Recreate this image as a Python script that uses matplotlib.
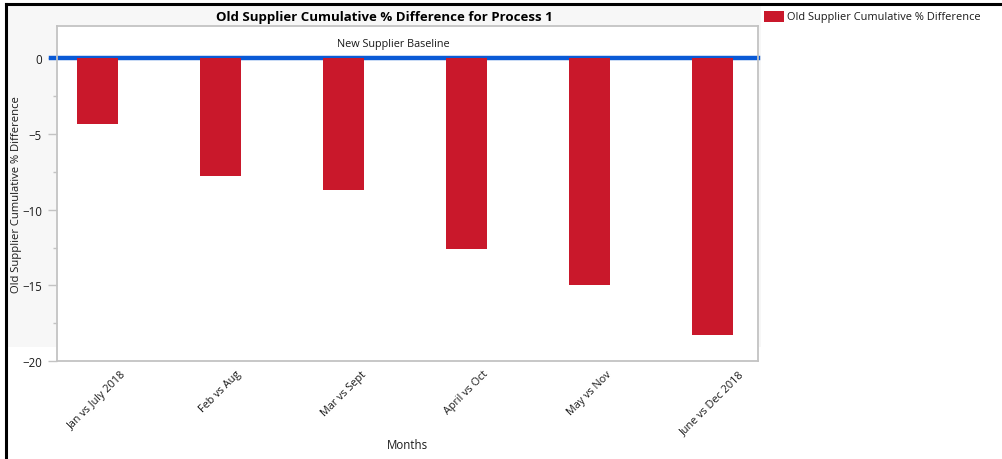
import matplotlib
matplotlib.use("Agg")
import matplotlib.pyplot as plt
from matplotlib.patches import Rectangle
from matplotlib.lines import Line2D
from matplotlib.ticker import MultipleLocator

plt.rcParams['font.family'] = ['Open Sans', 'DejaVu Sans']

months = ["Jan vs July 2018", "Feb vs Aug", "Mar vs Sept",
          "April vs Oct", "May vs Nov", "June vs Dec 2018"]
pct_diff = [-4.36, -7.77, -8.71, -12.6, -14.96, -18.25]
baseline = 0

BAR_RED = "#C9182B"
LINE_BLUE = "#0A5AD6"
SPINE_GRAY = "#C3C3C3"
TEXT = "#1A1A1A"

W, H = 1003, 460
fig = plt.figure(figsize=(W / 100, H / 100), dpi=100)
fig.patch.set_facecolor("white")

# light panel behind the chart (its own axes so it sits under the plot)
bg = fig.add_axes([7 / W, 1 - 347.5 / H, (761 - 7) / W, (347.5 - 6) / H], zorder=0)
bg.set_facecolor("#F7F7F7")
bg.set_axis_off()
bg.add_patch(Rectangle((0, 0), 1, 1, transform=bg.transAxes, facecolor="#F7F7F7",
                       edgecolor="none"))

# frame lines on top and left
fig.lines.append(Line2D([6 / W, 1], [1 - 5 / H, 1 - 5 / H], transform=fig.transFigure,
                        color="black", linewidth=2.2, zorder=5))
fig.lines.append(Line2D([6 / W, 6 / W], [0, 1 - 5 / H], transform=fig.transFigure,
                        color="black", linewidth=2.2, zorder=5))

left, right, top, bottom = 57, 758.3, 27.3, 362.3
ax = fig.add_axes([left / W, 1 - bottom / H, (right - left) / W, (bottom - top) / H],
                  zorder=2)
ax.set_facecolor("white")

x = list(range(len(months)))
bars = ax.bar(x, pct_diff, width=1 / 3, color=BAR_RED, zorder=3,
              label="Old Supplier Cumulative % Difference")
ax.axhline(baseline, xmin=-0.009, xmax=1, color=LINE_BLUE, linewidth=3.2,
           zorder=2, clip_on=False)
ax.text(2.405, 0.95, "New Supplier Baseline", ha="center", va="center",
        fontsize=7.8, color=TEXT, zorder=4)

ax.set_xlim(-0.329, 5.372)
ax.set_ylim(-20, 2.08)
ax.yaxis.set_major_locator(MultipleLocator(5))
ax.yaxis.set_minor_locator(MultipleLocator(2.5))
ax.tick_params(axis="y", which="major", length=6.3, width=1, color=SPINE_GRAY,
               labelsize=8.3, labelcolor=TEXT, pad=4.5)
ax.tick_params(axis="y", which="minor", length=3, width=1, color=SPINE_GRAY)
ax.set_xticks(x)
ax.set_xticklabels(months, rotation=45, ha="center", va="top", fontsize=7.8, color=TEXT)
ax.tick_params(axis="x", length=0, pad=5)

for s in ax.spines.values():
    s.set_color(SPINE_GRAY)
    s.set_linewidth(1.3)

ax.set_xlabel("Months", fontsize=8.3, color=TEXT)
ax.xaxis.set_label_coords(0.5, (bottom - 445.7) / (bottom - top))
ax.xaxis.label.set_va("center")
ax.set_ylabel("Old Supplier Cumulative % Difference", fontsize=8.1, color=TEXT)
ax.yaxis.set_label_coords((17 - left) / (right - left), 0.5)
ax.yaxis.label.set_va("center")

fig.text(384 / W, 1 - 18 / H, "Old Supplier Cumulative % Difference for Process 1",
         ha="center", va="center", fontsize=9.5, fontweight="bold", color="black")

# legend entry to the right of the panel
fig.patches.append(Rectangle((764 / W, 1 - 22.7 / H), 20 / W, 10.4 / H,
                             transform=fig.transFigure, facecolor=BAR_RED,
                             edgecolor="none"))
fig.text(787 / W, 1 - 17.5 / H, "Old Supplier Cumulative % Difference",
         ha="left", va="center", fontsize=7.9, color=TEXT)

fig.savefig("out.png", dpi=100)
